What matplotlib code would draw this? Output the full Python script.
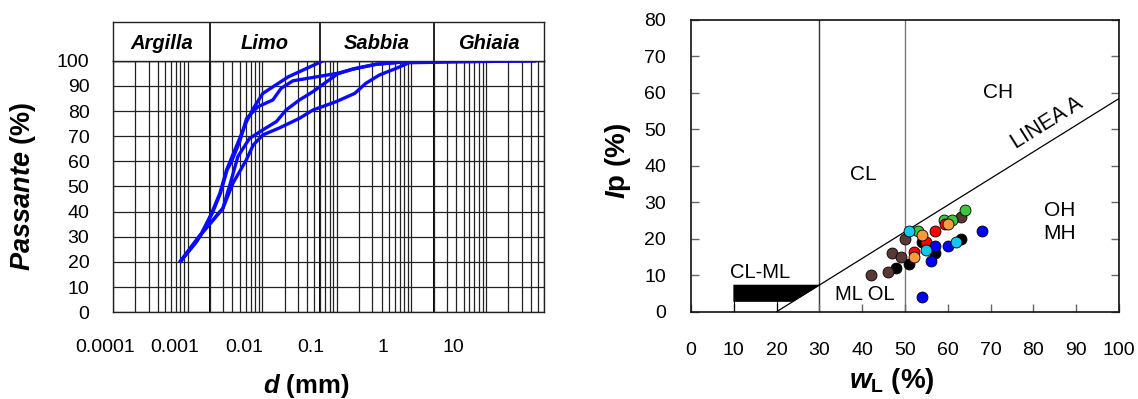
import numpy as np
import matplotlib
matplotlib.use("Agg")
import matplotlib.pyplot as plt
from matplotlib.ticker import LogLocator, NullFormatter
from matplotlib.patches import Polygon

plt.rcParams["font.family"] = ["Liberation Sans", "DejaVu Sans"]
plt.rcParams["mathtext.fontset"] = "custom"
plt.rcParams["mathtext.it"] = "Liberation Sans:italic:bold"
plt.rcParams["mathtext.rm"] = "Liberation Sans:bold"
plt.rcParams["mathtext.bf"] = "Liberation Sans:bold"

# ---------------- grain size distribution ----------------
size_classes = ["Argilla", "Limo", "Sabbia", "Ghiaia"]
class_bounds = [1e-4, 0.002, 0.06, 2.0, 60.0]
size_tick_labels = ["0.0001", "0.001", "0.01", "0.1", "1", "10"]

d_a = [0.00081, 0.00126, 0.00155, 0.00209, 0.00271, 0.00333, 0.00372, 0.00501,
       0.00617, 0.00759, 0.0102, 0.0224, 0.0661]
p_a = [20.4, 28, 31.5, 39.3, 47.3, 56.6, 60, 69.2, 75.8, 81, 87, 93.6, 100]

d_b = [0.00081, 0.00126, 0.00155, 0.00214, 0.00275, 0.00339, 0.00389, 0.00501,
       0.00617, 0.00875, 0.0139, 0.0179, 0.0258, 0.103, 0.166, 0.339, 0.851, 44.7]
p_b = [20.4, 28, 31.5, 39.3, 47.3, 56.6, 60, 68, 77, 81.7, 84.4, 89, 92, 95,
       96.7, 98.6, 99.6, 100]

d_c = [0.00081, 0.00131, 0.00155, 0.0021, 0.00297, 0.0038, 0.00472, 0.00676,
       0.0102, 0.0155, 0.0209, 0.0316, 0.0479, 0.103, 0.166, 0.339, 0.851, 44.7]
p_c = [20.4, 28, 31.4, 36, 41.3, 52, 61.9, 69.1, 72.5, 75.8, 80.4, 84.4, 87.7,
       94.8, 96.7, 98.6, 99.6, 100]

d_d = [0.00081, 0.00131, 0.00155, 0.0021, 0.00297, 0.00405, 0.00611, 0.00759,
       0.0102, 0.0171, 0.0316, 0.0479, 0.0977, 0.174, 0.245, 0.372, 0.631,
       0.933, 44.7]
p_d = [20.4, 28, 31.4, 36, 41.3, 51.3, 60.5, 66.5, 70.5, 73.3, 77.1, 80.4,
       83.7, 87, 91, 94.3, 97, 99.2, 100]

# ---------------- plasticity chart ----------------
wl_black = [48, 51, 54, 57, 56.5, 63]
ip_black = [12, 13, 19, 16, 17.5, 20]
wl_brown = [42, 46, 47, 49, 50, 63]
ip_brown = [10, 11, 16, 15, 20, 26]
wl_green = [53, 59, 61, 64]
ip_green = [22, 25, 25, 28]
wl_red = [52, 55, 57, 59.3]
ip_red = [16.4, 19, 22, 24]
wl_blue = [54, 56, 57, 60, 68]
ip_blue = [4, 14, 18, 18, 22]
wl_orange = [52, 54, 60]
ip_orange = [15, 21, 24]
wl_cyan = [51, 55, 62]
ip_cyan = [22, 17, 19]

W, H = 1138, 399
fig = plt.figure(figsize=(W / 100, H / 100), dpi=100)


def box(x0, y_top, w, h):
    return [x0 / W, (H - y_top - h) / H, w / W, h / H]


# --- left: grading curves ---
ax1 = fig.add_axes(box(113, 60.7, 431, 251.6))
ax1.set_xscale("log")
ax1.set_xlim(class_bounds[0], class_bounds[-1])
ax1.set_ylim(0, 100)
ax1.xaxis.set_major_locator(LogLocator(base=10, numticks=20))
ax1.xaxis.set_minor_locator(LogLocator(base=10, subs=np.arange(2, 10), numticks=200))
ax1.xaxis.set_major_formatter(NullFormatter())
ax1.xaxis.set_minor_formatter(NullFormatter())
ax1.set_yticks(np.arange(0, 101, 10))
ax1.tick_params(axis="both", which="both", length=0)
ax1.tick_params(axis="y", labelsize=14, pad=17)
ax1.grid(True, which="both", axis="x", color="#222222", lw=0.9)
ax1.grid(True, which="major", axis="y", color="#222222", lw=0.9)
for b in class_bounds[1:-1]:
    ax1.axvline(b, color="black", lw=1.4, zorder=1.5)
for s in ax1.spines.values():
    s.set_linewidth(1.0)
    s.set_color("#222222")

for dd, pp in [(d_a, p_a), (d_b, p_b), (d_c, p_c), (d_d, p_d)]:
    ax1.plot(dd, pp, color="#0a0aff", lw=2.4, solid_joinstyle="round", zorder=3)

label_px = [105, 174.5, 244, 311, 383, 453]
for lab, px in zip(size_tick_labels, label_px):
    ax1.text((px - 113) / 431, -0.14, lab, transform=ax1.transAxes,
             ha="center", va="center", fontsize=14)

# header with size classes
ax0 = fig.add_axes(box(113, 21.5, 431, 39.2))
ax0.set_xscale("log")
ax0.set_xlim(class_bounds[0], class_bounds[-1])
ax0.set_ylim(0, 1)
ax0.set_xticks([])
ax0.set_yticks([])
ax0.minorticks_off()
for s in ax0.spines.values():
    s.set_linewidth(1.0)
    s.set_color("#222222")
for i, name in enumerate(size_classes):
    lo, hi = class_bounds[i], class_bounds[i + 1]
    if i > 0:
        ax0.axvline(lo, color="black", lw=1.2)
    ax0.text(np.sqrt(lo * hi), 0.45, name, ha="center", va="center",
             fontsize=14.5, fontweight="bold", fontstyle="italic")

fig.text(23 / W, 1 - 186 / H, r"$Passante$ (%)", rotation=90, ha="center",
         va="center", fontsize=19.5, fontweight="bold")
fig.text(306 / W, 1 - 386 / H, r"$d$ (mm)", ha="center", va="center",
         fontsize=18.5, fontweight="bold")

# --- right: plasticity chart ---
ax2 = fig.add_axes(box(691, 19.7, 428, 292))
ax2.set_xlim(0, 100)
ax2.set_ylim(0, 80)
ax2.set_xticks(np.arange(0, 101, 10))
ax2.set_yticks(np.arange(0, 81, 10))
ax2.tick_params(axis="both", direction="in", length=6, width=1.0,
                color="#666666", labelsize=14)
ax2.tick_params(axis="y", right=True, pad=18)
ax2.tick_params(axis="x", pad=22)
for s in ax2.spines.values():
    s.set_linewidth(1.2)
    s.set_color("#111111")

ax2.axvline(30, color="#333333", lw=1.0, zorder=1)
ax2.axvline(50, color="#777777", lw=1.0, zorder=1)

a_line_wl = np.array([20.0, 100.0])
ax2.plot(a_line_wl, 0.73 * (a_line_wl - 20), color="black", lw=0.9, zorder=2)

clml_lo, clml_hi = 2.8, 7.3
clml = Polygon([(10, clml_lo), (20 + clml_lo / 0.73, clml_lo),
                (20 + clml_hi / 0.73, clml_hi), (10, clml_hi)],
               closed=True, facecolor="black", edgecolor="black", lw=0.5, zorder=2)
ax2.add_patch(clml)
ax2.plot([10, 10], [0, clml_lo], color="black", lw=0.8)
ax2.plot([20, 20], [0, clml_lo], color="black", lw=0.8)

groups = [
    (wl_black, ip_black, "#000000"),
    (wl_brown, ip_brown, "#5a3833"),
    (wl_green, ip_green, "#3cc83c"),
    (wl_red, ip_red, "#ff0000"),
    (wl_blue, ip_blue, "#0000ff"),
    (wl_orange, ip_orange, "#ff9a3c"),
    (wl_cyan, ip_cyan, "#10c8f0"),
]
for wl, ip, col in groups:
    ax2.scatter(wl, ip, s=62, color=col, edgecolors="black", linewidths=0.6,
                zorder=4)

ax2.text(71.7, 60.1, "CH", ha="center", va="center", fontsize=15)
ax2.text(40.3, 37.5, "CL", ha="center", va="center", fontsize=15)
ax2.text(86.2, 27.7, "OH", ha="center", va="center", fontsize=15)
ax2.text(86.2, 21.5, "MH", ha="center", va="center", fontsize=15)
ax2.text(16.1, 10.8, "CL-ML", ha="center", va="center", fontsize=14.5)
ax2.text(40.5, 4.6, "ML OL", ha="center", va="center", fontsize=14.5)
ax2.text(83.1, 51.6, "LINEA A", ha="center", va="center", fontsize=15.5,
         rotation=32, rotation_mode="anchor")

fig.text(618 / W, 1 - 161 / H, r"$I$p (%)", rotation=90, ha="center",
         va="center", fontsize=20, fontweight="bold")
fig.text(892 / W, 1 - 381 / H, r"$w_{\mathrm{L}}$ (%)", ha="center", va="center",
         fontsize=20, fontweight="bold")

fig.savefig("out.png", dpi=100)
